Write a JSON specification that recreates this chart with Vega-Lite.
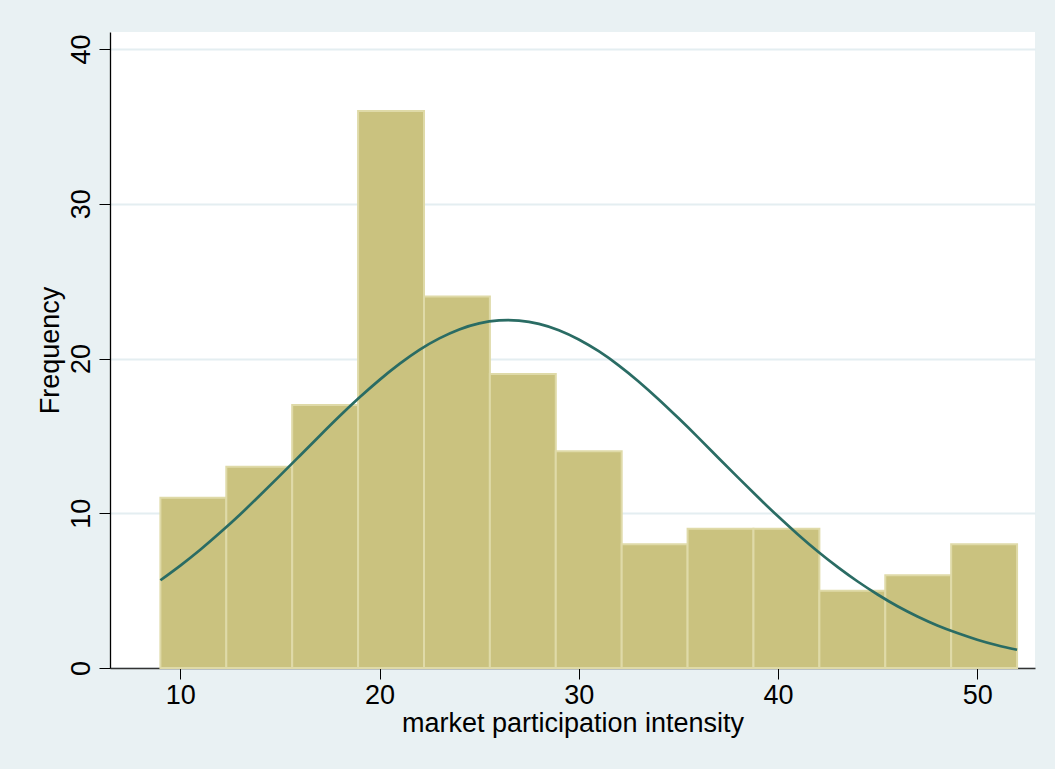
{
  "$schema": "https://vega.github.io/schema/vega-lite/v6.json",
  "width": 925,
  "height": 636,
  "autosize": {"type": "none"},
  "padding": {"left": 110, "top": 32, "right": 20, "bottom": 101},
  "background": "#E9F1F3",
  "config": {"view": {"fill": "white", "stroke": null}, "font": "Liberation Sans"},
  "datasets": {
    "bins": [
      {"bin_start": 9.0, "bin_end": 12.308, "count": 11},
      {"bin_start": 12.308, "bin_end": 15.615, "count": 13},
      {"bin_start": 15.615, "bin_end": 18.923, "count": 17},
      {"bin_start": 18.923, "bin_end": 22.231, "count": 36},
      {"bin_start": 22.231, "bin_end": 25.538, "count": 24},
      {"bin_start": 25.538, "bin_end": 28.846, "count": 19},
      {"bin_start": 28.846, "bin_end": 32.154, "count": 14},
      {"bin_start": 32.154, "bin_end": 35.462, "count": 8},
      {"bin_start": 35.462, "bin_end": 38.769, "count": 9},
      {"bin_start": 38.769, "bin_end": 42.077, "count": 9},
      {"bin_start": 42.077, "bin_end": 45.385, "count": 5},
      {"bin_start": 45.385, "bin_end": 48.692, "count": 6},
      {"bin_start": 48.692, "bin_end": 52.0, "count": 8}
    ],
    "curve": [
      {"x": 9, "density": 5.67}, {"x": 10, "density": 6.62}, {"x": 11, "density": 7.64},
      {"x": 12, "density": 8.75}, {"x": 13, "density": 9.92}, {"x": 14, "density": 11.16},
      {"x": 15, "density": 12.43}, {"x": 16, "density": 13.72}, {"x": 17, "density": 15.01},
      {"x": 18, "density": 16.28}, {"x": 19, "density": 17.49}, {"x": 20, "density": 18.62},
      {"x": 21, "density": 19.65}, {"x": 22, "density": 20.56}, {"x": 23, "density": 21.30},
      {"x": 24, "density": 21.88}, {"x": 25, "density": 22.27}, {"x": 26, "density": 22.46},
      {"x": 27, "density": 22.45}, {"x": 28, "density": 22.24}, {"x": 29, "density": 21.83},
      {"x": 30, "density": 21.23}, {"x": 31, "density": 20.47}, {"x": 32, "density": 19.56},
      {"x": 33, "density": 18.52}, {"x": 34, "density": 17.37}, {"x": 35, "density": 16.15},
      {"x": 36, "density": 14.89}, {"x": 37, "density": 13.59}, {"x": 38, "density": 12.30},
      {"x": 39, "density": 11.03}, {"x": 40, "density": 9.80}, {"x": 41, "density": 8.63},
      {"x": 42, "density": 7.53}, {"x": 43, "density": 6.52}, {"x": 44, "density": 5.59},
      {"x": 45, "density": 4.75}, {"x": 46, "density": 3.99}, {"x": 47, "density": 3.33},
      {"x": 48, "density": 2.75}, {"x": 49, "density": 2.26}, {"x": 50, "density": 1.83},
      {"x": 51, "density": 1.47}, {"x": 52, "density": 1.18}
    ]
  },
  "layer": [
    {
      "data": {"name": "bins"},
      "mark": {"type": "rect", "fill": "#CAC27F", "stroke": "#DFDAA8", "strokeWidth": 2},
      "encoding": {
        "x": {
          "field": "bin_start", "type": "quantitative",
          "scale": {"domain": [6.47, 52.9], "nice": false, "zero": false},
          "axis": {
            "title": "market participation intensity",
            "values": [10, 20, 30, 40, 50],
            "grid": false,
            "tickSize": 11, "tickColor": "black", "tickWidth": 1,
            "domainColor": "#333333", "domainWidth": 1.3,
            "labelFontSize": 27, "labelColor": "black", "labelPadding": 3, "labelFont": "Liberation Sans",
            "titleFontSize": 27, "titleFontWeight": "normal", "titleColor": "black", "titlePadding": 2, "titleFont": "Liberation Sans"
          }
        },
        "x2": {"field": "bin_end"},
        "y": {
          "field": "count", "type": "quantitative",
          "scale": {"domain": [0, 41.1], "nice": false},
          "axis": {
            "title": "Frequency",
            "values": [0, 10, 20, 30, 40],
            "grid": true, "gridColor": "#E4EEF1", "gridWidth": 2,
            "tickSize": 11, "tickColor": "black", "tickWidth": 1,
            "domainColor": "black", "domainWidth": 1.3,
            "labelAngle": -90, "labelFontSize": 27, "labelColor": "black", "labelPadding": 4, "labelFont": "Liberation Sans",
            "titleFontSize": 27, "titleFontWeight": "normal", "titleColor": "black", "titlePadding": 3, "titleFont": "Liberation Sans"
          }
        },
        "y2": {"datum": 0}
      }
    },
    {
      "data": {"name": "curve"},
      "mark": {"type": "line", "color": "#2A6C64", "strokeWidth": 2.7, "interpolate": "natural"},
      "encoding": {
        "x": {"field": "x", "type": "quantitative"},
        "y": {"field": "density", "type": "quantitative"}
      }
    }
  ]
}
